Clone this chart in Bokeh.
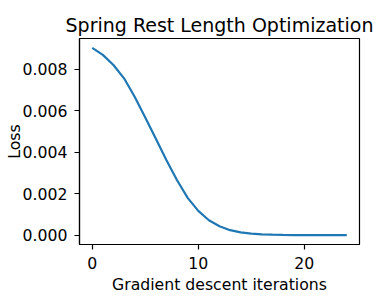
from bokeh.plotting import figure
from bokeh.models import FixedTicker, NumeralTickFormatter, Range1d
from bokeh.embed import file_html
from bokeh.resources import INLINE

iterations = list(range(25))
loss = [0.00904, 0.00870, 0.00821, 0.00757, 0.00668, 0.00568, 0.00465, 0.00362,
        0.00265, 0.00180, 0.00117, 0.00072, 0.00043, 0.00024, 0.00013, 0.00007,
        0.00004, 0.00002, 0.00001, 0.000005, 0.000003, 0.000002, 0.000001,
        0.0000005, 0.0000003]
x_ticks = [0, 10, 20]
y_ticks = [0.0, 0.002, 0.004, 0.006, 0.008]

FONT = "DejaVu Sans"

p = figure(frame_width=280, frame_height=206, output_backend="svg",
           toolbar_location=None,
           x_range=Range1d(-1.2, 25.2), y_range=Range1d(-0.000452, 0.009492),
           min_border_left=79, min_border_right=17, min_border_top=38,
           min_border_bottom=56)
p.title.text = "Spring Rest Length Optimization"
p.title.text_font = FONT
p.title.text_font_size = "19px"
p.title.text_font_style = "normal"
p.title.text_color = "black"
p.title.align = "center"
p.title.standoff = 6

p.line(iterations, loss, line_color="#1f77b4", line_width=2.2)

p.xgrid.visible = False
p.ygrid.visible = False
p.outline_line_color = "black"
p.outline_line_width = 1.2
p.outline_line_alpha = 1

p.xaxis.ticker = FixedTicker(ticks=x_ticks)
p.yaxis.ticker = FixedTicker(ticks=y_ticks)
p.yaxis.formatter = NumeralTickFormatter(format="0.000")
p.xaxis.axis_label = "Gradient descent iterations"
p.yaxis.axis_label = "Loss"

for ax in (p.xaxis, p.yaxis):
    ax.axis_label_text_font = FONT
    ax.axis_label_text_font_size = "15.7px"
    ax.axis_label_text_font_style = "normal"
    ax.major_label_text_font = FONT
    ax.major_label_text_font_size = "15.7px"
    ax.major_label_text_color = "black"
    ax.axis_label_text_color = "black"
    ax.minor_tick_line_color = None
    ax.major_tick_out = 5
    ax.major_tick_in = 0
    ax.major_tick_line_color = "black"
    ax.major_tick_line_width = 1.2
    ax.axis_line_color = "black"
    ax.axis_line_width = 1.2

p.xaxis.major_label_standoff = 7
p.xaxis.axis_label_standoff = 3
p.yaxis.major_label_standoff = 7
p.yaxis.axis_label_standoff = -4

open("out.html", "w").write(file_html(p, INLINE))
